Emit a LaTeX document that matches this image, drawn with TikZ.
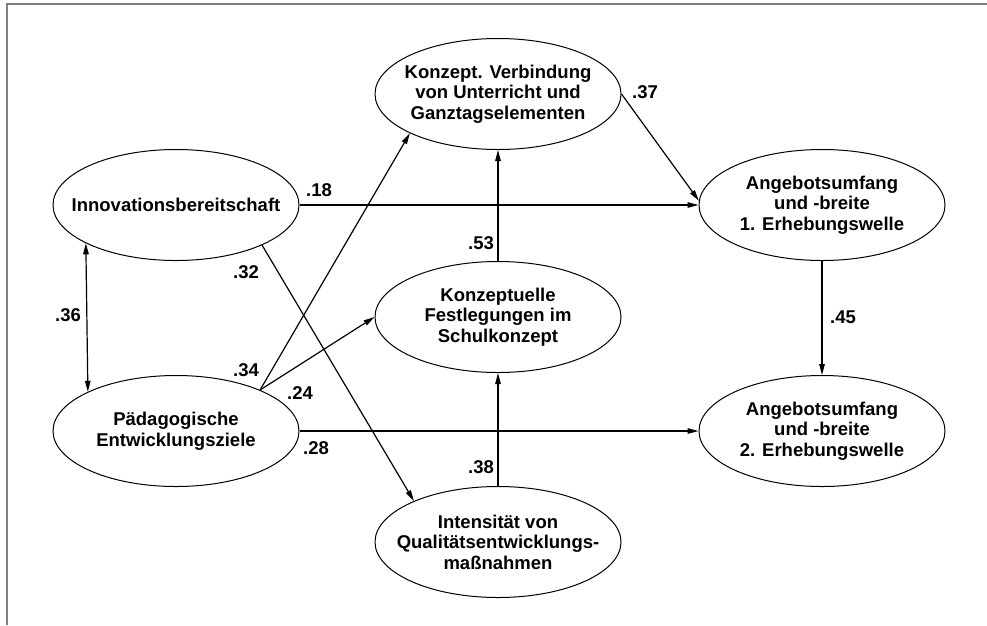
\documentclass[tikz,border=0pt]{standalone}
\usepackage{fontspec}
\setmainfont{Liberation Sans}
\usetikzlibrary{shapes.geometric,arrows.meta}
\definecolor{frame}{RGB}{128,128,128}
\begin{document}
\begin{tikzpicture}[x=1pt,y=-1pt,
 latent/.style={ellipse,draw,line width=1pt,minimum width=246pt,minimum height=111pt,inner sep=0pt},
 txt/.style={align=center,font=\bfseries\fontsize{18.5}{20.5}\selectfont,inner sep=0pt},
 coef/.style={font=\bfseries\fontsize{18.5}{20.5}\selectfont,inner sep=0pt},
 arr/.style={line width=1.2pt,-{Triangle[length=11pt,width=5.5pt]}},
 darr/.style={line width=1.2pt,{Triangle[length=11pt,width=5.5pt]}-{Triangle[length=11pt,width=5.5pt]}},
]
\useasboundingbox (0,0) rectangle (987,625);
\draw[frame,line width=2pt] (6.5,625) -- (6.5,3.5) -- (987,3.5);

\node[latent] (inno) at (176,205) {};
\node[txt] (innoT) at (inno) {Innovationsbereitschaft};
\node[latent] (paed) at (176,431) {};
\node[txt] (paedT) at (paed) {Pädagogische\\Entwicklungsziele};
\node[latent] (kv) at (498,94) {};
\node[txt] (kvT) at (kv) {Konzept. Verbindung\\von Unterricht und\\Ganztagselementen};
\node[latent] (konz) at (498,317) {};
\node[txt] (konzT) at (konz) {Konzeptuelle\\Festlegungen im\\Schulkonzept};
\node[latent] (int) at (498,542) {};
\node[txt] (intT) at (int) {Intensität von\\Qualitätsentwicklungs-\\maßnahmen};
\node[latent] (ang1) at (822,205) {};
\node[txt] (ang1T) at (ang1) {Angebotsumfang\\und -breite\\1. Erhebungswelle};
\node[latent] (ang2) at (822,431) {};
\node[txt] (ang2T) at (ang2) {Angebotsumfang\\und -breite\\2. Erhebungswelle};

\draw[arr] (inno.east) -- (ang1.west);
\draw[darr] (inno.203.8) -- (paed.156.2);
\draw[arr] (inno.-25.5) -- (int.154);
\draw[arr] (paed.26) -- (kv.204);
\draw[arr] (paed.26) -- (konz.west);
\draw[arr] (paed.east) -- (ang2.west);
\draw[arr] (konz.north) -- (kv.south);
\draw[arr] (int.north) -- (konz.south);
\draw[arr] (kv.east) -- (ang1.178);
\draw[arr] (ang1.south) -- (ang2.north);

\node[coef] (c18) at (319,190) {.18};
\node[coef] (c36) at (68,315) {.36};
\node[coef] (c32) at (246,272) {.32};
\node[coef] (c34) at (246,370) {.34};
\node[coef] (c24) at (300,393) {.24};
\node[coef] (c28) at (316,448) {.28};
\node[coef] (c53) at (481,243) {.53};
\node[coef] (c38) at (481,467) {.38};
\node[coef] (c37) at (645,92) {.37};
\node[coef] (c45) at (843,317) {.45};
\end{tikzpicture}
\end{document}
